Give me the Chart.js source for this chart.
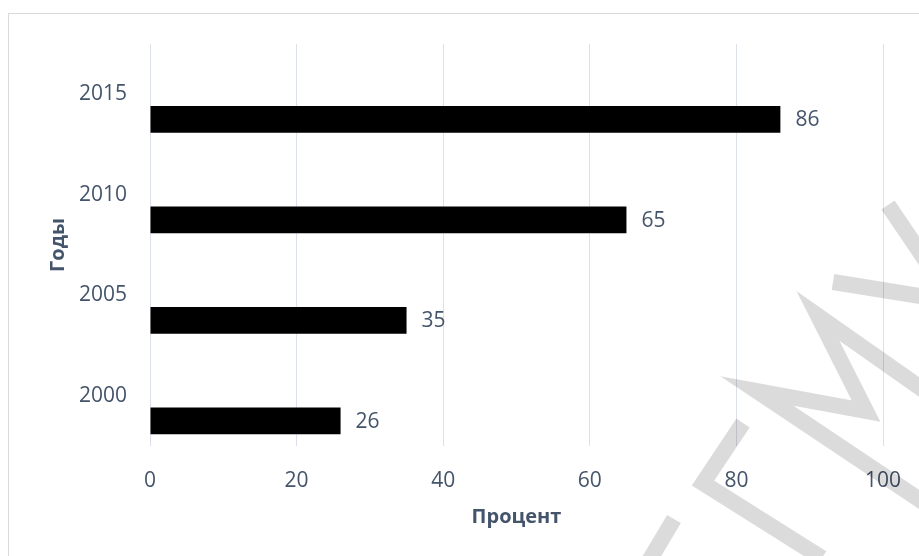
<!DOCTYPE html>
<html>
<head>
<meta charset="utf-8">
<script src="https://cdn.jsdelivr.net/npm/chart.js@4"></script>
<style>
  html, body { margin: 0; padding: 0; background: #fff; }
  #wrap { width: 919px; height: 556px; position: relative; }
</style>
</head>
<body>
<div id="wrap"><canvas id="chart"></canvas></div>
<script>
// data
const years = ['2015', '2010', '2005', '2000'];
const percent = [86, 65, 35, 26];
const xTicks = [0, 20, 40, 60, 80, 100];

const textColor = '#44546A';
const fontName = "'Open Sans', sans-serif";

// frame + value labels + watermark
const decor = {
    id: 'decor',
    beforeDraw(chart) {
        const ctx = chart.ctx;
        ctx.save();
        ctx.fillStyle = '#fff';
        ctx.fillRect(0, 0, chart.width, chart.height);
        ctx.strokeStyle = '#d9d9d9';
        ctx.lineWidth = 1;
        ctx.strokeRect(8.5, 13.5, 1000, 1000);
        ctx.restore();
    },
    afterDatasetsDraw(chart) {
        const ctx = chart.ctx;
        const meta = chart.getDatasetMeta(1);
        ctx.save();
        ctx.font = '21px ' + fontName;
        ctx.fillStyle = textColor;
        ctx.textAlign = 'left';
        ctx.textBaseline = 'middle';
        meta.data.forEach((bar, i) => {
            ctx.fillText(percent[i], bar.x + 15, bar.y + 1);
        });
        ctx.restore();
    },
    afterDraw(chart) {
        const ctx = chart.ctx;
        const strokes = [
            [[888, 205], [932, 270]],
            [[833, 282], [932, 298]],
            [[932, 396], [818, 316], [866, 411], [757, 391], [932, 508]],
            [[743, 423], [703, 483], [822, 558]],
            [[674, 519], [646, 566]]
        ];
        ctx.save();
        ctx.strokeStyle = 'rgba(0,0,0,0.14)';
        ctx.lineWidth = 16;
        ctx.lineJoin = 'miter';
        ctx.lineCap = 'butt';
        strokes.forEach(s => {
            ctx.beginPath();
            ctx.moveTo(s[0][0], s[0][1]);
            for (let i = 1; i < s.length; i++) ctx.lineTo(s[i][0], s[i][1]);
            ctx.stroke();
        });
        ctx.restore();
    }
};

new Chart(document.getElementById('chart'), {
    type: 'bar',
    data: {
        labels: years,
        datasets: [
            {
                // empty companion series, keeps the real bars in the lower half of each band
                data: years.map(() => null),
                backgroundColor: 'transparent'
            },
            {
                label: 'Процент',
                data: percent,
                backgroundColor: '#000000',
                borderWidth: 0
            }
        ]
    },
    options: {
        indexAxis: 'y',
        responsive: true,
        maintainAspectRatio: false,
        animation: false,
        layout: {
            padding: { left: 0, top: 44, right: 36, bottom: 0 }
        },
        datasets: {
            bar: {
                categoryPercentage: 1,
                barPercentage: 0.535
            }
        },
        plugins: {
            legend: { display: false },
            tooltip: { enabled: false }
        },
        scales: {
            x: {
                min: 0,
                max: 100,
                afterBuildTicks: axis => {
                    axis.ticks = xTicks.map(v => ({ value: v }));
                },
                afterFit: axis => {
                    axis.height = 110;
                    axis.paddingLeft = 0;
                    axis.paddingRight = 0;
                },
                border: { display: false },
                grid: {
                    color: '#dce0e8',
                    lineWidth: 1,
                    drawTicks: false
                },
                ticks: {
                    color: textColor,
                    padding: 22,
                    font: { family: fontName, size: 21 }
                },
                title: {
                    display: true,
                    text: 'Процент',
                    color: textColor,
                    padding: { top: 0, bottom: 27 },
                    font: { family: fontName, size: 20, weight: 'bold' }
                }
            },
            y: {
                afterFit: axis => {
                    axis.width = 150;
                    axis.paddingTop = 0;
                    axis.paddingBottom = 0;
                },
                border: { display: false },
                grid: { display: false, drawTicks: false },
                ticks: {
                    color: textColor,
                    padding: 23,
                    font: { family: fontName, size: 21 }
                },
                title: {
                    display: true,
                    text: 'Годы',
                    color: textColor,
                    padding: { top: 46, bottom: 0 },
                    font: { family: fontName, size: 20, weight: 'bold' }
                }
            }
        }
    },
    plugins: [decor]
});
</script>
</body>
</html>
